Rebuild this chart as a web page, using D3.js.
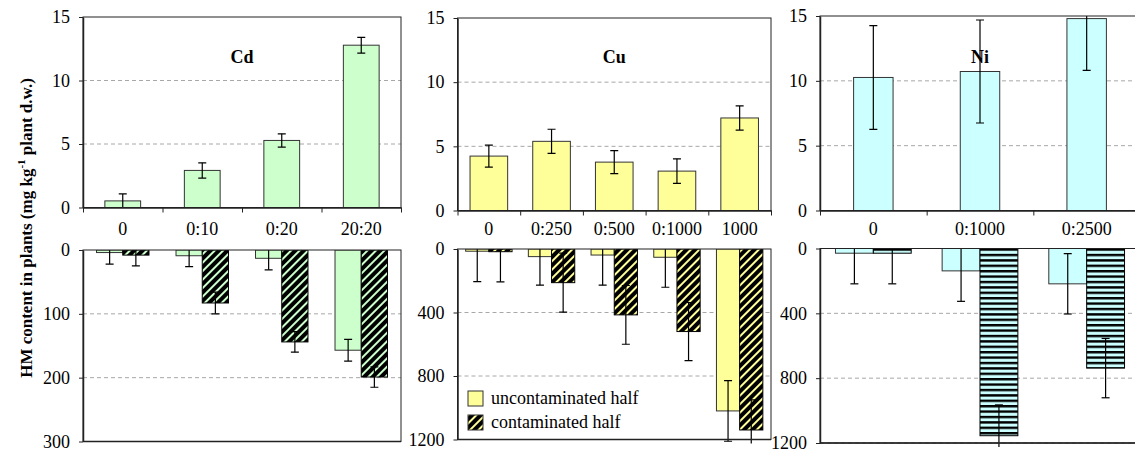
<!DOCTYPE html>
<html>
<head>
<meta charset="utf-8">
<script src="https://cdn.jsdelivr.net/npm/d3@7"></script>
<style>
    body { margin: 0; background: #fff; }
    svg, svg text { font-family: 'Liberation Serif', serif; fill: #000; }
</style>
</head>
<body>
<div id="chart"></div>
<script>
// Cd treatments
const cdCats = ['0', '0:10', '0:20', '20:20'];
const cdShoot = [0.52, 2.92, 5.28, 12.78];
const cdShootErr = [0.55, 0.6, 0.52, 0.62];
const cdUnc = [4, 9, 13, 157];
const cdUncErr = [18, 17, 18, 17];
const cdCon = [8, 83, 144, 199];
const cdConErr = [17, 17, 16, 16];

// Cu treatments
const cuCats = ['0', '0:250', '0:500', '0:1000', '1000'];
const cuShoot = [4.24, 5.39, 3.77, 3.07, 7.21];
const cuShootErr = [0.86, 0.94, 0.89, 0.96, 0.94];
const cuUnc = [14, 48, 38, 52, 1020];
const cuUncErr = [192, 180, 190, 189, 191];
const cuCon = [17, 212, 415, 520, 1140];
const cuConErr = [190, 186, 185, 183, 190];

// Ni treatments
const niCats = ['0', '0:1000', '0:2500'];
const niShoot = [10.26, 10.72, 14.8];
const niShootErr = [4.0, 3.97, 4.0];
const niUnc = [29, 138, 218];
const niUncErr = [189, 188, 186];
const niCon = [29, 1155, 738];
const niConErr = [189, 190, 183];

const topTicks = [0, 5, 10, 15];
const cdRootTicks = [0, 100, 200, 300];
const bigRootTicks = [0, 400, 800, 1200];
const legendLabels = ['uncontaminated half', 'contaminated half'];

const width = 1135, height = 452;
const FONT = "'Liberation Serif', serif";

const panels = [
    { name: 'Cd', cats: cdCats, shoot: cdShoot, shootErr: cdShootErr,
      unc: cdUnc, uncErr: cdUncErr, con: cdCon, conErr: cdConErr,
      rootTicks: cdRootTicks, color: '#ccffcc', pattern: 'diag',
      x0: 83, x1: 401, top: [17, 207.5], bot: [250, 441.5], shootW: 0.45, pairW: 0.66 },
    { name: 'Cu', cats: cuCats, shoot: cuShoot, shootErr: cuShootErr,
      unc: cuUnc, uncErr: cuUncErr, con: cuCon, conErr: cuConErr,
      rootTicks: bigRootTicks, color: '#ffff99', pattern: 'diag',
      x0: 457.5, x1: 771, top: [18, 210.5], bot: [249, 439.5], shootW: 0.6, pairW: 0.74 },
    { name: 'Ni', cats: niCats, shoot: niShoot, shootErr: niShootErr,
      unc: niUnc, uncErr: niUncErr, con: niCon, conErr: niConErr,
      rootTicks: bigRootTicks, color: '#ccffff', pattern: 'horiz',
      x0: 820, x1: 1140, top: [16, 210.5], bot: [248.5, 443], shootW: 0.37, pairW: 0.71 }
];

const svg = d3.select('#chart')
    .append('svg')
    .attr('width', width)
    .attr('height', height)
    .style('font-family', FONT);

svg.append('rect').attr('width', width).attr('height', height).attr('fill', '#fff');

const defs = svg.append('defs');

// Striped fills for the contaminated half
panels.forEach(p => {
    if (p.pattern === 'diag') {
        const pat = defs.append('pattern')
            .attr('id', `pat-${p.name}`)
            .attr('patternUnits', 'userSpaceOnUse')
            .attr('width', 6).attr('height', 6)
            .attr('patternTransform', 'rotate(45)');
        pat.append('rect').attr('width', 6).attr('height', 6).attr('fill', p.color);
        pat.append('rect').attr('width', 4).attr('height', 6).attr('fill', '#000');
    } else {
        const pat = defs.append('pattern')
            .attr('id', `pat-${p.name}`)
            .attr('patternUnits', 'userSpaceOnUse')
            .attr('width', 6).attr('height', 5.4);
        pat.append('rect').attr('width', 6).attr('height', 5.4).attr('fill', p.color);
        pat.append('rect').attr('width', 6).attr('height', 2.4).attr('fill', '#000');
    }
});

function styleAxis(g) {
    g.attr('font-size', 18).attr('font-family', FONT);
    g.selectAll('text').style('font-family', FONT);
    g.select('.domain').attr('stroke', '#222').attr('stroke-width', 1.5);
    g.selectAll('.tick line').attr('stroke', '#222');
}

function errorBars(g, data, cap) {
    const eb = g.selectAll('.err').data(data).enter().append('g').attr('class', 'err')
        .attr('stroke', '#000').attr('stroke-width', 1.2);
    eb.append('line').attr('x1', d => d.x).attr('x2', d => d.x).attr('y1', d => d.y1).attr('y2', d => d.y2);
    eb.append('line').attr('x1', d => d.x - cap).attr('x2', d => d.x + cap).attr('y1', d => d.y1).attr('y2', d => d.y1);
    eb.append('line').attr('x1', d => d.x - cap).attr('x2', d => d.x + cap).attr('y1', d => d.y2).attr('y2', d => d.y2);
}

panels.forEach((p, pi) => {
    const x = d3.scaleBand().domain(p.cats).range([p.x0, p.x1]).padding(0);
    const step = x.step();
    const xb = d3.scaleLinear().domain([0, p.cats.length]).range([p.x0, p.x1]);

    // ---------- shoots (top) ----------
    const yT = d3.scaleLinear().domain([0, 15]).range([p.top[1], p.top[0]]);

    defs.append('clipPath').attr('id', `clipT${pi}`)
        .append('rect').attr('x', p.x0).attr('y', p.top[0]).attr('width', p.x1 - p.x0).attr('height', p.top[1] - p.top[0]);

    const gT = svg.append('g');

    gT.selectAll('.grid').data(topTicks.filter(t => t > 0 && t < 15)).enter().append('line')
        .attr('x1', p.x0).attr('x2', p.x1).attr('y1', d => yT(d)).attr('y2', d => yT(d))
        .attr('stroke', '#a8a8a8').attr('stroke-dasharray', '4,3');

    const bw = step * p.shootW;
    gT.selectAll('.bar').data(p.shoot).enter().append('rect')
        .attr('x', (d, i) => x(p.cats[i]) + (step - bw) / 2)
        .attr('y', d => yT(d))
        .attr('width', bw)
        .attr('height', d => yT(0) - yT(d))
        .attr('fill', p.color).attr('stroke', '#333').attr('stroke-width', 1);

    const errT = gT.append('g').attr('clip-path', `url(#clipT${pi})`);
    errorBars(errT, p.shoot.map((v, i) => ({
        x: x(p.cats[i]) + step / 2,
        y1: yT(v + p.shootErr[i]),
        y2: yT(v - p.shootErr[i])
    })), 4);

    gT.append('rect').attr('x', p.x0).attr('y', p.top[0]).attr('width', p.x1 - p.x0).attr('height', p.top[1] - p.top[0])
        .attr('fill', 'none').attr('stroke', '#222').attr('stroke-width', 1);

    gT.append('g').attr('transform', `translate(${p.x0},0)`)
        .call(d3.axisLeft(yT).tickValues(topTicks).tickSize(4).tickSizeOuter(0).tickPadding(9).tickFormat(d3.format('d')))
        .call(styleAxis);

    gT.append('g').attr('transform', `translate(0,${p.top[1]})`)
        .call(d3.axisBottom(xb).tickValues(d3.range(p.cats.length + 1)).tickSize(5).tickSizeOuter(0).tickFormat(''))
        .call(styleAxis);

    gT.append('text')
        .attr('x', (p.x0 + p.x1) / 2).attr('y', 63)
        .attr('text-anchor', 'middle').attr('font-size', 18).attr('font-weight', 'bold')
        .text(p.name);

    // category labels between the two panels
    svg.append('g').selectAll('text').data(p.cats).enter().append('text')
        .attr('x', d => x(d) + step / 2).attr('y', 235)
        .attr('text-anchor', 'middle').attr('font-size', 18)
        .text(d => d);

    // ---------- roots (bottom) ----------
    const rMax = p.rootTicks[p.rootTicks.length - 1];
    const yB = d3.scaleLinear().domain([0, rMax]).range([p.bot[0], p.bot[1]]);
    const sub = d3.scaleBand().domain(['unc', 'con']).range([0, step * p.pairW]);

    defs.append('clipPath').attr('id', `clipB${pi}`)
        .append('rect').attr('x', p.x0).attr('y', p.bot[0]).attr('width', p.x1 - p.x0).attr('height', p.bot[1] - p.bot[0] + 4);

    const gB = svg.append('g');

    gB.selectAll('.grid').data(p.rootTicks.filter(t => t > 0)).enter().append('line')
        .attr('x1', p.x0).attr('x2', p.x1).attr('y1', d => yB(d)).attr('y2', d => yB(d))
        .attr('stroke', '#a8a8a8').attr('stroke-dasharray', '4,3');

    const rows = [];
    p.cats.forEach((c, i) => {
        rows.push({ key: 'unc', cat: c, v: p.unc[i], e: p.uncErr[i] });
        rows.push({ key: 'con', cat: c, v: p.con[i], e: p.conErr[i] });
    });
    const off = (step - step * p.pairW) / 2;

    gB.append('g').attr('clip-path', `url(#clipB${pi})`)
        .selectAll('rect').data(rows).enter().append('rect')
        .attr('x', d => x(d.cat) + off + sub(d.key))
        .attr('y', yB(0))
        .attr('width', sub.bandwidth())
        .attr('height', d => yB(d.v) - yB(0))
        .attr('fill', d => d.key === 'unc' ? p.color : `url(#pat-${p.name})`)
        .attr('stroke', d => d.key === 'unc' ? '#333' : '#000')
        .attr('stroke-width', 1);

    const errB = gB.append('g').attr('clip-path', `url(#clipB${pi})`);
    errorBars(errB, rows.map(d => ({
        x: x(d.cat) + off + sub(d.key) + sub.bandwidth() / 2,
        y1: yB(d.v - d.e),
        y2: yB(d.v + d.e)
    })), 4);

    gB.append('rect').attr('x', p.x0).attr('y', p.bot[0]).attr('width', p.x1 - p.x0).attr('height', p.bot[1] - p.bot[0])
        .attr('fill', 'none').attr('stroke', '#222').attr('stroke-width', 1);
    gB.append('line').attr('x1', p.x0).attr('x2', p.x1).attr('y1', p.bot[1]).attr('y2', p.bot[1])
        .attr('stroke', '#222').attr('stroke-width', 1.5);

    gB.append('g').attr('transform', `translate(${p.x0},0)`)
        .call(d3.axisLeft(yB).tickValues(p.rootTicks).tickSize(4).tickSizeOuter(0).tickPadding(9).tickFormat(d3.format('d')))
        .call(styleAxis);

    // legend in the Cu root panel
    if (p.name === 'Cu') {
        const lg = gB.append('g').attr('transform', 'translate(468,391)');
        legendLabels.forEach((lab, i) => {
            lg.append('rect').attr('x', 0).attr('y', i * 24).attr('width', 15).attr('height', 15)
                .attr('fill', i === 0 ? p.color : `url(#pat-${p.name})`)
                .attr('stroke', '#333');
            lg.append('text').attr('x', 23).attr('y', i * 24 + 13).attr('font-size', 18).text(lab);
        });
    }
});

// shared y-axis title
const yt = svg.append('text')
    .attr('transform', 'translate(32,228) rotate(-90)')
    .attr('text-anchor', 'middle')
    .attr('font-size', 17)
    .attr('font-weight', 'bold');
yt.append('tspan').text('HM content in plants (mg kg');
yt.append('tspan').attr('font-size', 11).attr('dy', -7).text('-1');
yt.append('tspan').attr('dy', 7).text(' plant d.w.)');
</script>
</body>
</html>
